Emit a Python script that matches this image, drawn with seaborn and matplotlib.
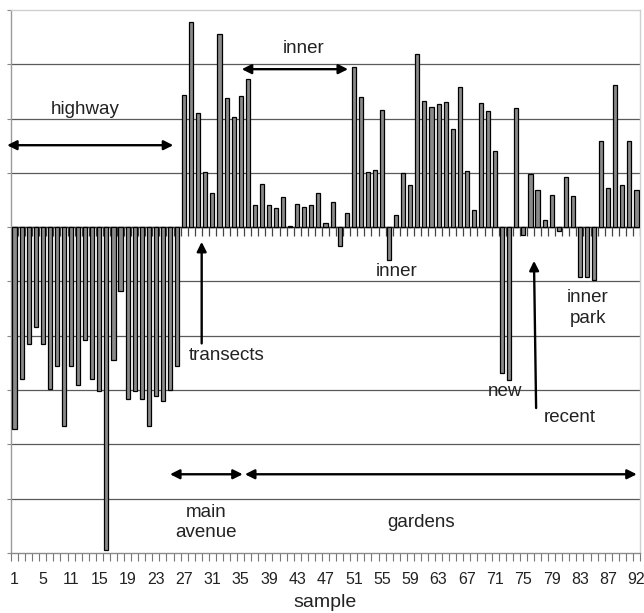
import matplotlib
matplotlib.use("Agg")
import matplotlib.pyplot as plt
import numpy as np
import pandas as pd
import seaborn as sns

# Sample identifiers in plotting order (a few numbers are absent from the survey)
samples = [1, 2, 3, 4, 5, 6, 8, 10, 11, 12, 13, 14, 15, 16, 17, 18, 19, 20,
           21, 22, 23, 24, 25, 26, 27, 28, 29, 30, 31, 32, 33, 34, 35, 36, 37,
           38, 39, 40, 41, 42, 43, 44, 45, 46, 47, 48, 49, 50, 51, 52, 53, 54,
           55, 56, 57, 58, 59, 60, 61, 62, 63, 64, 65, 66, 67, 68, 69, 70, 71,
           72, 73, 74, 75, 76, 77, 78, 79, 80, 81, 82, 83, 84, 85, 86, 87, 88,
           89, 90, 92]

# Score per sample
values = [-3.72, -2.80, -2.15, -1.83, -2.15, -2.98, -2.55, -3.66, -2.55, -2.91,
          -2.07, -2.79, -3.02, -5.94, -2.44, -1.17, -3.17, -3.02, -3.17, -3.66,
          -3.11, -3.20, -3.00, -2.55, 2.43, 3.78, 2.10, 1.01, 0.63, 3.55,
          2.38, 2.03, 2.41, 2.73, 0.41, 0.79, 0.41, 0.35, 0.55, 0.03,
          0.43, 0.38, 0.41, 0.63, 0.08, 0.47, -0.34, 0.26, 2.95, 2.40,
          1.01, 1.05, 2.16, -0.61, 0.22, 1.00, 0.78, 3.19, 2.33, 2.21,
          2.26, 2.31, 1.80, 2.58, 1.04, 0.31, 2.28, 2.14, 1.41, -2.68,
          -2.81, 2.19, -0.15, 0.98, 0.68, 0.13, 0.60, -0.07, 0.93, 0.57,
          -0.92, -0.92, -0.97, 1.59, 0.73, 2.62, 0.78, 1.59, 0.69]

# Every fourth sample gets a tick label
label_step = 4

sns.set_theme(style="white")
plt.rcParams["font.family"] = ["Liberation Sans", "DejaVu Sans"]

fig = plt.figure(figsize=(6.44, 6.13), dpi=100)
ax = fig.add_axes([11 / 644, 1 - 553 / 613, 629 / 644, 543 / 613])

df = pd.DataFrame({"sample": [str(s) for s in samples], "value": values})
n = len(df)

# horizontal grid
for yv in range(-5, 4):
    ax.axhline(yv, color="#5a5a5a", lw=0.9, zorder=1)
ax.axhline(0, color="#222222", lw=1.0, zorder=2)
# tick marks hanging below the zero line
ax.vlines(np.arange(n + 1) - 0.5, -0.17, 0, color="#444444", lw=0.9, zorder=2)

sns.barplot(data=df, x="sample", y="value", order=df["sample"],
            color="#8a8a8a", saturation=1, edgecolor="black", linewidth=0.9,
            width=0.58, ax=ax, zorder=3)

ax.set_xlim(-0.5, n - 0.5)
ax.set_ylim(-6, 4)
ax.set_yticks(range(-6, 5))
ax.set_yticklabels([])
ax.tick_params(axis="y", left=True, length=3, width=0.8, color="#888888",
               direction="out")

major = list(range(0, n, label_step))
ax.set_xticks(major)
ax.set_xticklabels([str(samples[i]) for i in major])
ax.set_xticks(np.arange(n + 1) - 0.5, minor=True)
ax.tick_params(axis="x", which="major", bottom=True, length=0, pad=14,
               labelsize=11.5, labelcolor="#222222")
ax.tick_params(axis="x", which="minor", bottom=True, length=6, width=0.8,
               color="#777777", direction="out")
ax.set_xlabel("sample", fontsize=14, color="#222222", labelpad=5)
ax.set_ylabel("")

for side, col in [("left", "#9a9a9a"), ("bottom", "#8a8a8a"),
                  ("top", "#cfcfcf"), ("right", "#cfcfcf")]:
    ax.spines[side].set_visible(True)
    ax.spines[side].set_color(col)
    ax.spines[side].set_linewidth(1.0)

txt = dict(fontsize=13.5, color="#222222", ha="center", va="center")
arr2 = dict(arrowstyle="<|-|>", color="black", lw=1.7, shrinkA=0, shrinkB=0,
            mutation_scale=14)
arr1 = dict(arrowstyle="-|>", color="black", lw=1.7, shrinkA=0, shrinkB=0,
            mutation_scale=14)

# highway
ax.text(9.97, 2.16, "highway", **txt)
ax.annotate("", xy=(-1.05, 1.51), xytext=(22.46, 1.51), arrowprops=arr2,
            annotation_clip=False)

# inner (upper)
ax.text(40.96, 3.29, "inner", **txt)
ax.annotate("", xy=(32.15, 2.91), xytext=(47.19, 2.91), arrowprops=arr2)

# transects
ax.annotate("", xy=(26.48, -0.27), xytext=(26.48, -2.14), arrowprops=arr1)
ax.text(30.06, -2.36, "transects", **txt)

# inner (lower)
ax.text(54.12, -0.82, "inner", **txt)

# new
ax.text(69.4, -3.02, "new", **txt)

# recent
ax.annotate("", xy=(73.5, -0.62), xytext=(73.8, -3.33), arrowprops=arr1)
ax.text(78.6, -3.5, "recent", **txt)

# inner park
ax.text(81.15, -1.49, "inner\npark", linespacing=1.25, **txt)

# main avenue / gardens
ax.annotate("", xy=(22.0, -4.55), xytext=(32.29, -4.55), arrowprops=arr2)
ax.annotate("", xy=(32.6, -4.55), xytext=(88.04, -4.55), arrowprops=arr2)
ax.text(27.09, -5.44, "main\navenue", linespacing=1.25, **txt)
ax.text(57.5, -5.44, "gardens", **txt)

fig.savefig("out.png", dpi=100, facecolor="white")
